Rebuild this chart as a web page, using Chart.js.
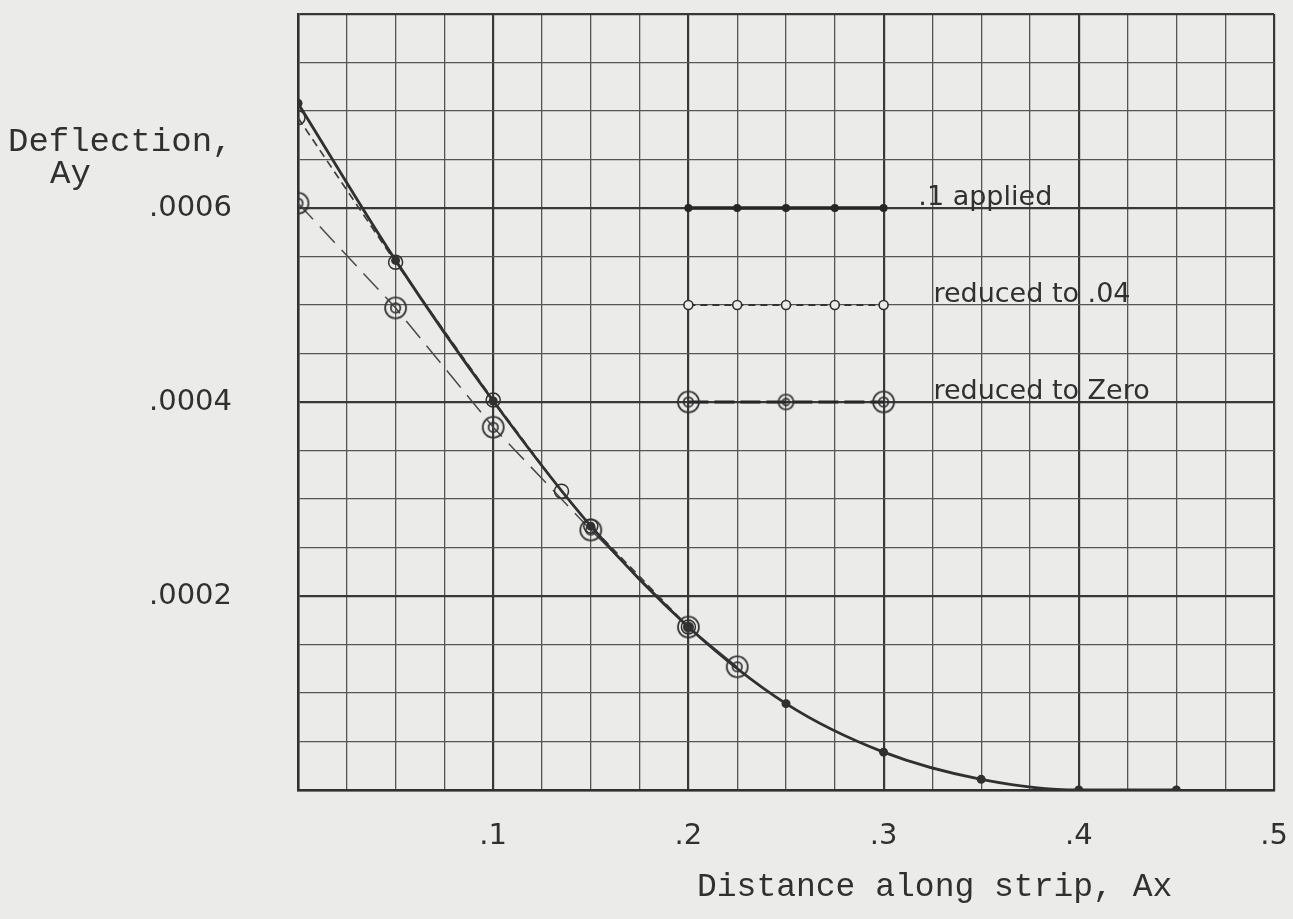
<!DOCTYPE html>
<html>
<head>
<meta charset="utf-8">
<title>Deflection along strip</title>
<script src="https://cdn.jsdelivr.net/npm/chart.js@4.4.1/dist/chart.umd.min.js"></script>
<style>
  html, body { margin: 0; padding: 0; background: #ebebea; }
  #wrap { width: 1293px; height: 919px; }
</style>
</head>
<body>
<div id="wrap"><canvas id="deflection-chart" width="1293" height="919"></canvas></div>
<script>
// values
var appliedX = [0, 0.05, 0.1, 0.15, 0.2, 0.25, 0.3, 0.35, 0.4, 0.45];
var appliedY = [0.000708, 0.000546, 0.000401, 0.000272, 0.000168, 0.000089, 0.000039, 0.000011, 0, 0];

var reduced04X = [0, 0.05, 0.1, 0.135, 0.15, 0.2];
var reduced04Y = [0.000693, 0.000544, 0.000402, 0.000308, 0.000272, 0.000168];

var zeroX = [0, 0.05, 0.1, 0.15, 0.2, 0.225];
var zeroY = [0.000605, 0.000497, 0.000374, 0.000268, 0.000168, 0.000127];

// key drawn inside the grid
var seriesNames = ['.1 applied', 'reduced to .04', 'reduced to Zero'];
var keyX = [0.2, 0.225, 0.25, 0.275, 0.3];
var keyZeroX = [0.2, 0.25, 0.3];
var keyY = [0.0006, 0.0005, 0.0004];

var xTickLabels = ['.1', '.2', '.3', '.4', '.5'];
var yTickLabels = ['.0002', '.0004', '.0006'];

var ink = '#303030';
var paper = '#ebebea';

function pts(xs, ys) {
  return xs.map(function (x, i) { return { x: x, y: ys[i] }; });
}
function flat(xs, y) {
  return xs.map(function (x) { return { x: x, y: y }; });
}

// double circle marker
function ring(r) {
  var c = document.createElement('canvas');
  var size = Math.ceil(2 * r + 4);
  c.width = size; c.height = size;
  var g = c.getContext('2d');
  g.strokeStyle = ink;
  g.lineWidth = 1.7;
  g.beginPath(); g.arc(size / 2, size / 2, r, 0, 2 * Math.PI); g.stroke();
  g.beginPath(); g.arc(size / 2, size / 2, r * 0.45, 0, 2 * Math.PI); g.stroke();
  return c;
}
var ringBig = ring(10.5);
var ringSmall = ring(7.5);

var paperText = {
  id: 'paperText',
  beforeDraw: function (chart) {
    var ctx = chart.ctx;
    ctx.save();
    ctx.fillStyle = paper;
    ctx.fillRect(0, 0, chart.width, chart.height);
    ctx.restore();
  },
  afterDraw: function (chart) {
    var ctx = chart.ctx, xs = chart.scales.x, ys = chart.scales.y;
    ctx.save();
    ctx.fillStyle = ink;
    ctx.textBaseline = 'alphabetic';
    ctx.font = '34px "Liberation Mono"';
    ctx.fillText('Deflection,', 8, 151);
    ctx.fillText('Ay', 50, 183);
    ctx.font = '33px "Liberation Mono"';
    ctx.fillText('Distance along strip, Ax', 697, 896);

    ctx.font = '27px "DejaVu Sans"';
    ctx.fillText(seriesNames[0], xs.getPixelForValue(0.3178), ys.getPixelForValue(keyY[0]) - 3);
    ctx.fillText(seriesNames[1], xs.getPixelForValue(0.3255), ys.getPixelForValue(keyY[1]) - 3);
    ctx.fillText(seriesNames[2], xs.getPixelForValue(0.3255), ys.getPixelForValue(keyY[2]) - 3);
    ctx.restore();
  }
};

new Chart(document.getElementById('deflection-chart'), {
  type: 'scatter',
  data: {
    datasets: [
      {
        label: seriesNames[0],
        data: pts(appliedX, appliedY),
        showLine: true,
        cubicInterpolationMode: 'monotone',
        borderColor: ink,
        borderWidth: 2.8,
        pointRadius: 4.5,
        pointBackgroundColor: ink,
        pointBorderWidth: 0
      },
      {
        label: seriesNames[1],
        data: pts(reduced04X, reduced04Y),
        showLine: true,
        borderColor: '#404040',
        borderWidth: 1.7,
        borderDash: [8, 5],
        pointRadius: 7,
        pointBackgroundColor: 'rgba(0,0,0,0)',
        pointBorderColor: ink,
        pointBorderWidth: 1.5
      },
      {
        label: seriesNames[2],
        data: pts(zeroX, zeroY),
        showLine: true,
        borderColor: '#4a4a4a',
        borderWidth: 1.5,
        segment: {
          borderDash: function (ctx) { return ctx.p0.parsed.x < 0.149 ? [22, 10] : undefined; }
        },
        pointStyle: ringBig
      },
      // key rows
      {
        label: 'key1',
        data: flat(keyX, keyY[0]),
        showLine: true,
        borderColor: '#262626',
        borderWidth: 3.4,
        pointRadius: 4,
        pointBackgroundColor: '#262626',
        pointBorderWidth: 0
      },
      {
        label: 'key2',
        data: flat(keyX, keyY[1]),
        showLine: true,
        borderColor: '#333',
        borderWidth: 1.9,
        borderDash: [7, 5],
        pointRadius: 4.5,
        pointBackgroundColor: paper,
        pointBorderColor: ink,
        pointBorderWidth: 1.6
      },
      {
        label: 'key3',
        data: flat(keyZeroX, keyY[2]),
        showLine: true,
        borderColor: '#262626',
        borderWidth: 3,
        borderDash: [20, 6],
        pointStyle: function (ctx) { return ctx.dataIndex === 1 ? ringSmall : ringBig; }
      }
    ]
  },
  options: {
    responsive: false,
    animation: false,
    layout: { padding: { top: 14, right: 19, left: 0, bottom: 0 } },
    plugins: {
      legend: { display: false },
      tooltip: { enabled: false }
    },
    scales: {
      x: {
        type: 'linear',
        min: 0,
        max: 0.5,
        afterFit: function (scale) {
          scale.height = 129;
          scale.paddingLeft = 0; scale.paddingRight = 0;
          scale.paddingTop = 0; scale.paddingBottom = 0;
        },
        border: { color: ink, width: 2.5 },
        grid: {
          drawTicks: false,
          color: function (c) { return Math.round(c.tick.value * 40) % 4 === 0 ? '#383838' : '#555'; },
          lineWidth: function (c) { return Math.round(c.tick.value * 40) % 4 === 0 ? 2.2 : 1.3; }
        },
        ticks: {
          stepSize: 0.025,
          autoSkip: false,
          maxRotation: 0,
          padding: 29,
          color: ink,
          font: { family: '"DejaVu Sans"', size: 29 },
          callback: function (v) {
            var i = Math.round(v * 40);
            return (i > 0 && i % 4 === 0) ? xTickLabels[i / 4 - 1] : '';
          }
        }
      },
      y: {
        type: 'linear',
        min: 0,
        max: 0.0008,
        afterFit: function (scale) {
          scale.width = 298;
          scale.paddingLeft = 0; scale.paddingRight = 0;
          scale.paddingTop = 0; scale.paddingBottom = 0;
        },
        border: { color: ink, width: 2.5 },
        grid: {
          drawTicks: false,
          color: function (c) { return Math.round(c.tick.value / 0.00005) % 4 === 0 ? '#383838' : '#555'; },
          lineWidth: function (c) { return Math.round(c.tick.value / 0.00005) % 4 === 0 ? 2.2 : 1.3; }
        },
        ticks: {
          stepSize: 0.00005,
          autoSkip: false,
          padding: 66,
          color: ink,
          font: { family: '"DejaVu Sans"', size: 29 },
          callback: function (v) {
            var i = Math.round(v / 0.00005);
            return (i > 0 && i < 16 && i % 4 === 0) ? yTickLabels[i / 4 - 1] : '';
          }
        }
      }
    }
  },
  plugins: [paperText]
});
</script>
</body>
</html>
